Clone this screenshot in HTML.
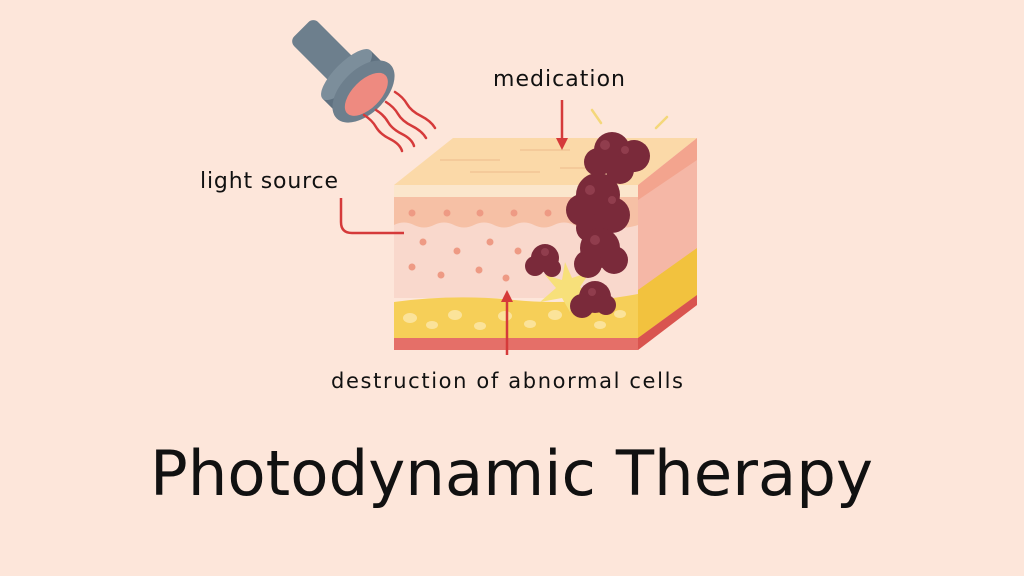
<!DOCTYPE html>
<html><head><meta charset="utf-8"><style>
html,body{margin:0;padding:0;background:#fde6da;}
svg{display:block}
text{font-family:"DejaVu Sans","Liberation Sans",sans-serif;fill:#111}
</style></head><body>
<svg width="1024" height="576" viewBox="0 0 1024 576" xmlns="http://www.w3.org/2000/svg">
<rect width="1024" height="576" fill="#fde6da"/>
<!-- flashlight -->
<g transform="translate(372,100) rotate(-45)">
  <rect x="-17" y="-100" width="34" height="70" rx="7" fill="#6d7f8d"/>
  <rect x="-34" y="-36" width="68" height="24" fill="#5f7180"/>
  <ellipse cx="0" cy="-36" rx="34" ry="12" fill="#7c8e9b"/>
  <ellipse cx="0" cy="-12" rx="38" ry="22" fill="#6d7f8d"/>
  <ellipse cx="0" cy="-8" rx="27" ry="14" fill="#ee8a80"/>
</g>
<g stroke="#d53a3a" stroke-width="2.5" fill="none" stroke-linecap="round">
  <path d="M395 92 q8 5 12 12 t14 12 t14 12"/>
  <path d="M386 102 q8 5 12 12 t14 12 t14 12"/>
  <path d="M376 110 q8 5 12 12 t14 12 t12 12"/>
  <path d="M364 115 q8 5 12 12 t14 12 t12 12"/>
</g>
<!-- skin block -->
<polygon points="394,185 638,185 697,138 453,138" fill="#fbd9a8"/>
<g stroke="#f0c291" stroke-width="1.2" fill="none">
  <path d="M440 160 h60 M520 150 h50 M470 172 h70 M560 168 h40"/>
</g>
<polygon points="638,185 697,138 697,305 638,350" fill="#f3a48e"/>
<polygon points="638,200 697,160 697,255 638,300" fill="#f5b7a6"/>
<polygon points="638,290 697,248 697,295 638,338" fill="#f2c23e"/>
<polygon points="638,338 697,295 697,305 638,350" fill="#d9544f"/>
<rect x="394" y="185" width="244" height="12" fill="#fbe6cc"/>
<rect x="394" y="197" width="244" height="32" fill="#f6c0a5"/>
<path d="M394 225 q10 -5 20 0 t20 0 t20 0 t20 0 t20 0 t20 0 t20 0 t20 0 t20 0 t20 0 t20 0 t24 0 V298 H394Z" fill="#f9d8cc"/>
<path d="M394 302 q60 -8 120 -2 t124 -6 V338 H394Z" fill="#f6cf58"/>
<g fill="#fbe39a">
  <ellipse cx="410" cy="318" rx="7" ry="5"/><ellipse cx="432" cy="325" rx="6" ry="4"/><ellipse cx="455" cy="315" rx="7" ry="5"/><ellipse cx="480" cy="326" rx="6" ry="4"/><ellipse cx="505" cy="316" rx="7" ry="5"/><ellipse cx="530" cy="324" rx="6" ry="4"/><ellipse cx="555" cy="315" rx="7" ry="5"/><ellipse cx="600" cy="325" rx="6" ry="4"/><ellipse cx="620" cy="314" rx="6" ry="4"/>
</g>
<rect x="394" y="338" width="244" height="12" fill="#e56f68"/>
<g fill="#ee9a84">
  <circle cx="412" cy="213" r="3.5"/><circle cx="447" cy="213" r="3.5"/><circle cx="480" cy="213" r="3.5"/><circle cx="514" cy="213" r="3.5"/><circle cx="548" cy="213" r="3.5"/>
  <circle cx="423" cy="242" r="3.5"/><circle cx="490" cy="242" r="3.5"/><circle cx="457" cy="251" r="3.5"/><circle cx="518" cy="251" r="3.5"/>
  <circle cx="412" cy="267" r="3.5"/><circle cx="441" cy="275" r="3.5"/><circle cx="479" cy="270" r="3.5"/><circle cx="506" cy="278" r="3.5"/>
</g>
<!-- star -->
<polygon points="565,262 572,278 590,272 580,287 595,298 575,298 570,312 562,298 540,302 556,288 545,275 562,280" fill="#f7e07a"/>
<!-- tumor -->
<g fill="#7a2a3a">
  <circle cx="612" cy="150" r="18"/><circle cx="634" cy="156" r="16"/><circle cx="598" cy="162" r="14"/><circle cx="620" cy="170" r="14"/>
  <circle cx="598" cy="195" r="22"/><circle cx="582" cy="210" r="16"/><circle cx="612" cy="215" r="18"/><circle cx="590" cy="228" r="14"/>
  <circle cx="600" cy="248" r="20"/><circle cx="588" cy="264" r="14"/><circle cx="614" cy="260" r="14"/>
  <circle cx="545" cy="258" r="14"/><circle cx="535" cy="266" r="10"/><circle cx="552" cy="268" r="9"/>
  <circle cx="595" cy="297" r="16"/><circle cx="582" cy="306" r="12"/><circle cx="606" cy="305" r="10"/>
</g>
<g fill="#9a4656" opacity=".7">
  <circle cx="605" cy="145" r="5"/><circle cx="625" cy="150" r="4"/><circle cx="590" cy="190" r="5"/><circle cx="612" cy="200" r="4"/><circle cx="595" cy="240" r="5"/><circle cx="545" cy="252" r="4"/><circle cx="592" cy="292" r="4"/>
</g>
<g stroke="#f4d77a" stroke-width="2.5" stroke-linecap="round">
  <line x1="592" y1="110" x2="601" y2="123"/><line x1="667" y1="117" x2="656" y2="128"/>
</g>
<!-- arrows -->
<g stroke="#d53a3a" stroke-width="2.5" fill="none">
  <line x1="562" y1="100" x2="562" y2="140"/>
  <path d="M341 198 V222 Q341 233 352 233 H404"/>
  <line x1="507" y1="355" x2="507" y2="300"/>
</g>
<polygon points="556,138 568,138 562,150" fill="#d53a3a"/>
<polygon points="501,302 513,302 507,290" fill="#d53a3a"/>
<!-- labels -->
<text x="493" y="86" font-size="22" textLength="132">medication</text>
<text x="200" y="188" font-size="22" textLength="138">light source</text>
<text x="331" y="388" font-size="21" textLength="352">destruction of abnormal cells</text>
<text x="150" y="495" font-size="62" textLength="723" lengthAdjust="spacingAndGlyphs">Photodynamic Therapy</text>
</svg>
</body></html>
